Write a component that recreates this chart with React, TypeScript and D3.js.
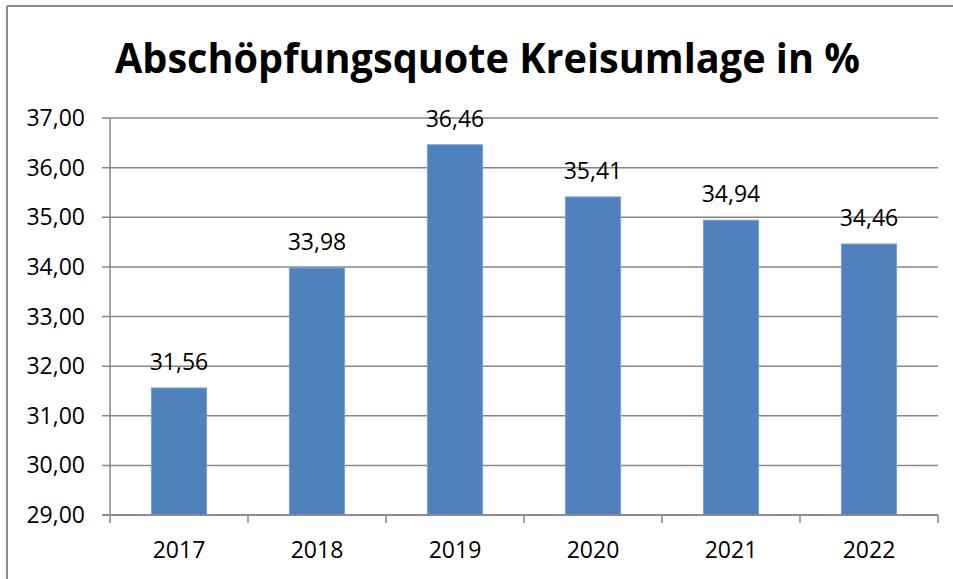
import React from "react";
import * as d3 from "d3";

const categories = ["2017", "2018", "2019", "2020", "2021", "2022"];
const values = [31.56, 33.98, 36.46, 35.41, 34.94, 34.46];
const yTicks = [29, 30, 31, 32, 33, 34, 35, 36, 37];
const title = "Abschöpfungsquote Kreisumlage in %";

const W = 953;
const H = 579;
const left = 110;
const right = 938;
const top = 118;
const bottom = 515;

const fmt = (v: number) => v.toFixed(2).replace(".", ",");

export default function App() {
  const x = d3
    .scaleBand<string>()
    .domain(categories)
    .range([left, right])
    .paddingInner(0.6)
    .paddingOuter(0.3);
  const y = d3.scaleLinear().domain([29, 37]).range([bottom, top]);
  const step = x.step();
  const font = "'Open Sans', 'Liberation Sans', sans-serif";
  const grid = "#878787";

  return (
    <svg
      width={W}
      height={H}
      style={{ position: "absolute", left: 0, top: 0, background: "#fff" }}
    >
      <rect x={0} y={0} width={W} height={H} fill="#fff" />
      {/* chart border */}
      <line x1={7} y1={6} x2={W} y2={6} stroke="#8c8c8c" strokeWidth={2} />
      <line x1={7} y1={6} x2={7} y2={H} stroke="#8c8c8c" strokeWidth={2} />

      <text
        x={(115 + 860) / 2}
        y={73}
        textAnchor="middle"
        fontFamily={font}
        fontWeight={700}
        fontSize={42}
        textLength={745}
        lengthAdjust="spacingAndGlyphs"
        fill="#000"
      >
        {title}
      </text>

      {/* gridlines */}
      {yTicks.map((t) => (
        <g key={t}>
          <line
            x1={102}
            x2={right}
            y1={y(t)}
            y2={y(t)}
            stroke={grid}
            strokeWidth={1.5}
          />
          <text
            x={85}
            y={y(t)}
            dy="0.35em"
            textAnchor="end"
            fontFamily={font}
            fontSize={23}
            fill="#000"
          >
            {fmt(t)}
          </text>
        </g>
      ))}

      {/* y axis */}
      <line x1={left} x2={left} y1={top} y2={bottom} stroke={grid} strokeWidth={1.5} />

      {/* x axis ticks */}
      {d3.range(categories.length + 1).map((i) => {
        const xx = left + i * step;
        return (
          <line
            key={i}
            x1={xx}
            x2={xx}
            y1={bottom}
            y2={bottom + 8}
            stroke={grid}
            strokeWidth={1.5}
          />
        );
      })}

      {/* bars */}
      {categories.map((c, i) => (
        <g key={c}>
          <rect
            x={x(c)!}
            y={y(values[i])}
            width={x.bandwidth()}
            height={bottom - y(values[i])}
            fill="#4F81BD"
            stroke="#7a9fd0"
            strokeWidth={1}
          />
          <text
            x={x(c)! + x.bandwidth() / 2}
            y={y(values[i]) - 18}
            textAnchor="middle"
            fontFamily={font}
            fontSize={23}
            fill="#000"
          >
            {fmt(values[i])}
          </text>
          <text
            x={x(c)! + x.bandwidth() / 2}
            y={550}
            dy="0.35em"
            textAnchor="middle"
            fontFamily={font}
            fontSize={23}
            fill="#000"
          >
            {c}
          </text>
        </g>
      ))}
      <line x1={102} x2={right} y1={bottom} y2={bottom} stroke={grid} strokeWidth={1.5} />
    </svg>
  );
}
